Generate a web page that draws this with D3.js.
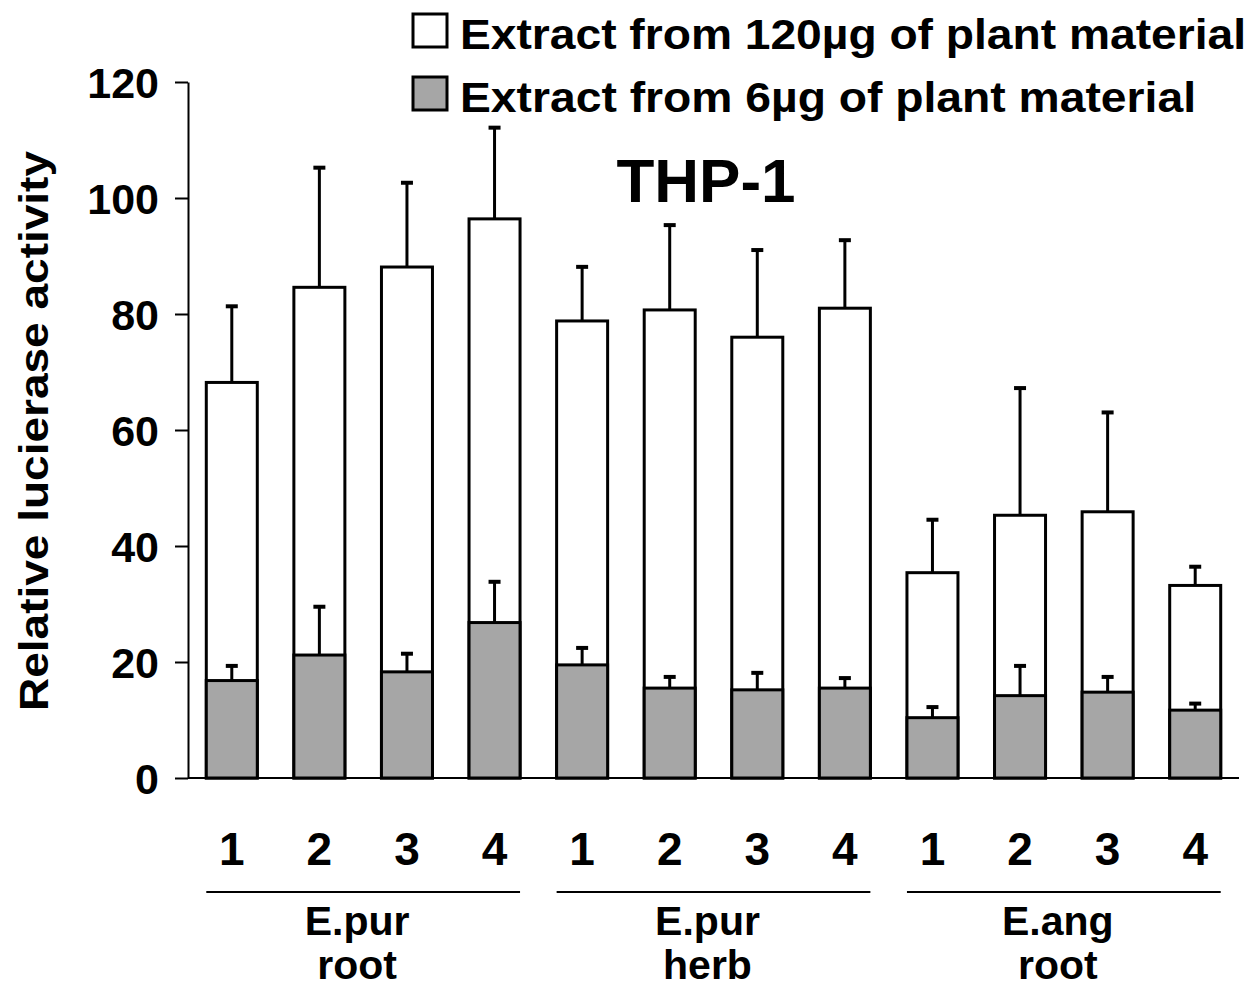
<!DOCTYPE html>
<html>
<head>
<meta charset="utf-8">
<script src="https://cdn.jsdelivr.net/npm/d3@7"></script>
<style>
  body { margin: 0; background: #fff; }
  text { font-family: "Liberation Sans", Arial, sans-serif; font-weight: bold; fill: #000; }
</style>
</head>
<body>
<div id="chart"></div>
<script>
// sample numbers under each bar, and the three extract groups
var samples = ["1", "2", "3", "4", "1", "2", "3", "4", "1", "2", "3", "4"];
var groups = [["E.pur", "root"], ["E.pur", "herb"], ["E.ang", "root"]];

// extract from 120µg (white bars) and its error
var high = [68.2, 84.6, 88.1, 96.4, 78.8, 80.7, 76.0, 81.0, 35.4, 45.3, 45.9, 33.2];
var highErr = [13.3, 20.8, 14.7, 15.9, 9.5, 14.8, 15.2, 11.9, 9.3, 22.1, 17.3, 3.4];

// extract from 6µg (grey bars) and its error
var low = [16.8, 21.2, 18.3, 26.8, 19.5, 15.5, 15.2, 15.5, 10.4, 14.2, 14.8, 11.7];
var lowErr = [2.7, 8.5, 3.3, 7.2, 3.1, 2.1, 3.1, 1.9, 2.0, 5.3, 2.8, 1.3];

var yTicks = [0, 20, 40, 60, 80, 100, 120];

var width = 1256, height = 989;
var grey = "#a6a6a6";

var svg = d3.select("#chart").append("svg")
    .attr("width", width)
    .attr("height", height);

// scales
var x = d3.scaleBand()
    .domain(d3.range(samples.length))
    .range([188, 1239])
    .padding(0);
var barW = 51;

var y = d3.scaleLinear()
    .domain([0, 120])
    .range([778, 82]);

function cx(i) { return x(i) + x.bandwidth() / 2; }

// white bars (120µg)
svg.selectAll(".high")
    .data(high)
    .enter()
    .append("rect")
    .attr("x", function (d, i) { return cx(i) - barW / 2; })
    .attr("y", function (d) { return y(d); })
    .attr("width", barW)
    .attr("height", function (d) { return y(0) - y(d); })
    .attr("fill", "#fff")
    .attr("stroke", "#000")
    .attr("stroke-width", 3);

// grey bars (6µg) drawn over the white ones
svg.selectAll(".low")
    .data(low)
    .enter()
    .append("rect")
    .attr("x", function (d, i) { return cx(i) - barW / 2; })
    .attr("y", function (d) { return y(d); })
    .attr("width", barW)
    .attr("height", function (d) { return y(0) - y(d); })
    .attr("fill", grey)
    .attr("stroke", "#000")
    .attr("stroke-width", 3);

// one-sided error bars
function errorBars(vals, errs) {
    var g = svg.append("g").attr("stroke", "#000");
    vals.forEach(function (v, i) {
        var top = y(v + errs[i]);
        g.append("line")
            .attr("x1", cx(i)).attr("x2", cx(i))
            .attr("y1", y(v)).attr("y2", top)
            .attr("stroke-width", 3);
        g.append("line")
            .attr("x1", cx(i) - 6).attr("x2", cx(i) + 6)
            .attr("y1", top + 1).attr("y2", top + 1)
            .attr("stroke-width", 4);
    });
}
errorBars(high, highErr);
errorBars(low, lowErr);

// y axis
var yAxis = svg.append("g")
    .attr("transform", "translate(188,0)")
    .call(d3.axisLeft(y).tickValues(yTicks).tickSize(13).tickSizeOuter(0).tickPadding(16));
yAxis.select(".domain").attr("stroke-width", 2);
yAxis.selectAll(".tick line").attr("stroke-width", 2);
yAxis.selectAll(".tick text")
    .attr("font-size", 43)
    .attr("dy", "0.36em")
    .style("font-family", "'Liberation Sans', Arial, sans-serif")
    .style("font-weight", "bold");

// x baseline
svg.append("line")
    .attr("x1", 188).attr("x2", 1239)
    .attr("y1", y(0)).attr("y2", y(0))
    .attr("stroke", "#000")
    .attr("stroke-width", 2);

// sample numbers
svg.selectAll(".sample")
    .data(samples)
    .enter()
    .append("text")
    .attr("x", function (d, i) { return cx(i); })
    .attr("y", 865)
    .attr("text-anchor", "middle")
    .attr("font-size", 46)
    .text(function (d) { return d; });

// group underlines and labels
groups.forEach(function (g, k) {
    var x0 = cx(k * 4) - barW / 2;
    var x1 = cx(k * 4 + 3) + barW / 2;
    svg.append("line")
        .attr("x1", x0).attr("x2", x1)
        .attr("y1", 892).attr("y2", 892)
        .attr("stroke", "#000")
        .attr("stroke-width", 2);
    var mid = (x0 + x1) / 2 - 6;
    svg.append("text")
        .attr("x", mid).attr("y", 935)
        .attr("text-anchor", "middle")
        .attr("font-size", 41)
        .text(g[0]);
    svg.append("text")
        .attr("x", mid).attr("y", 979)
        .attr("text-anchor", "middle")
        .attr("font-size", 41)
        .text(g[1]);
});

// y axis title
svg.append("text")
    .attr("transform", "translate(48,431) rotate(-90)")
    .attr("text-anchor", "middle")
    .attr("font-size", 40)
    .attr("textLength", 560)
    .attr("lengthAdjust", "spacingAndGlyphs")
    .text("Relative lucierase activity");

// panel title
svg.append("text")
    .attr("x", 706).attr("y", 202)
    .attr("text-anchor", "middle")
    .attr("font-size", 62)
    .text("THP-1");

// legend
var legend = [
    { label: "Extract from 120µg of plant material", fill: "#fff", y: 13, len: 786 },
    { label: "Extract from 6µg of plant material", fill: grey, y: 76, len: 736 }
];
legend.forEach(function (l) {
    svg.append("rect")
        .attr("x", 413).attr("y", l.y + 1)
        .attr("width", 34).attr("height", 33)
        .attr("fill", l.fill)
        .attr("stroke", "#000")
        .attr("stroke-width", 3);
    svg.append("text")
        .attr("x", 460).attr("y", l.y + 36)
        .attr("font-size", 42)
        .attr("textLength", l.len)
        .attr("lengthAdjust", "spacingAndGlyphs")
        .text(l.label);
});
</script>
</body>
</html>
